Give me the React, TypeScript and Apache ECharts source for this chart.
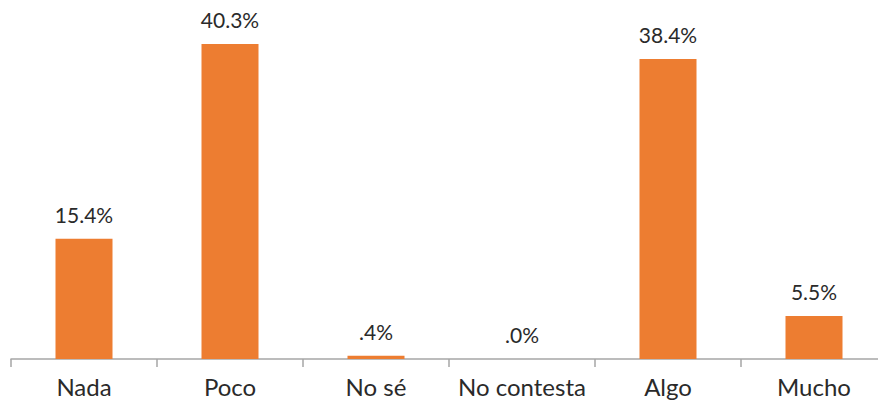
import React, { useEffect, useRef } from "react";
import * as echarts from "echarts";

const categories = ["Nada", "Poco", "No sé", "No contesta", "Algo", "Mucho"];
const values = [15.4, 40.3, 0.4, 0.0, 38.4, 5.5];

const fmt = (v: number) => v.toFixed(1).replace(/^0\./, ".") + "%";

export default function App() {
  const ref = useRef<HTMLDivElement>(null);
  useEffect(() => {
    if (!ref.current) return;
    const chart = echarts.init(ref.current, undefined, { renderer: "svg" });
    chart.setOption({
      animation: false,
      grid: { left: 11, top: 7.3, right: 13, bottom: 45, containLabel: false },
      xAxis: {
        type: "category",
        data: categories,
        axisLine: { lineStyle: { color: "#a6a6a6", width: 1.5 } },
        axisTick: { show: true, length: 8, lineStyle: { color: "#a6a6a6", width: 1.5 } },
        axisLabel: {
          color: "#2a2a2a",
          fontSize: 24,
          fontFamily: "Lato",
          margin: 15,
          interval: 0,
        },
      },
      yAxis: {
        type: "value",
        min: 0,
        max: 45,
        show: false,
        splitLine: { show: false },
      },
      series: [
        {
          type: "bar",
          data: values,
          barWidth: 57,
          itemStyle: { color: "#ED7D31" },
          label: {
            show: true,
            position: "top",
            distance: 14,
            color: "#2a2a2a",
            fontSize: 21,
            fontFamily: "Lato",
            formatter: (p: any) => fmt(p.value),
          },
        },
      ],
    });
    return () => chart.dispose();
  }, []);
  return (
    <div style={{ position: "absolute", left: 0, top: 0, width: 878, height: 404, overflow: "hidden" }}>
      <div ref={ref} style={{ width: 900, height: 404 }} />
    </div>
  );
}
